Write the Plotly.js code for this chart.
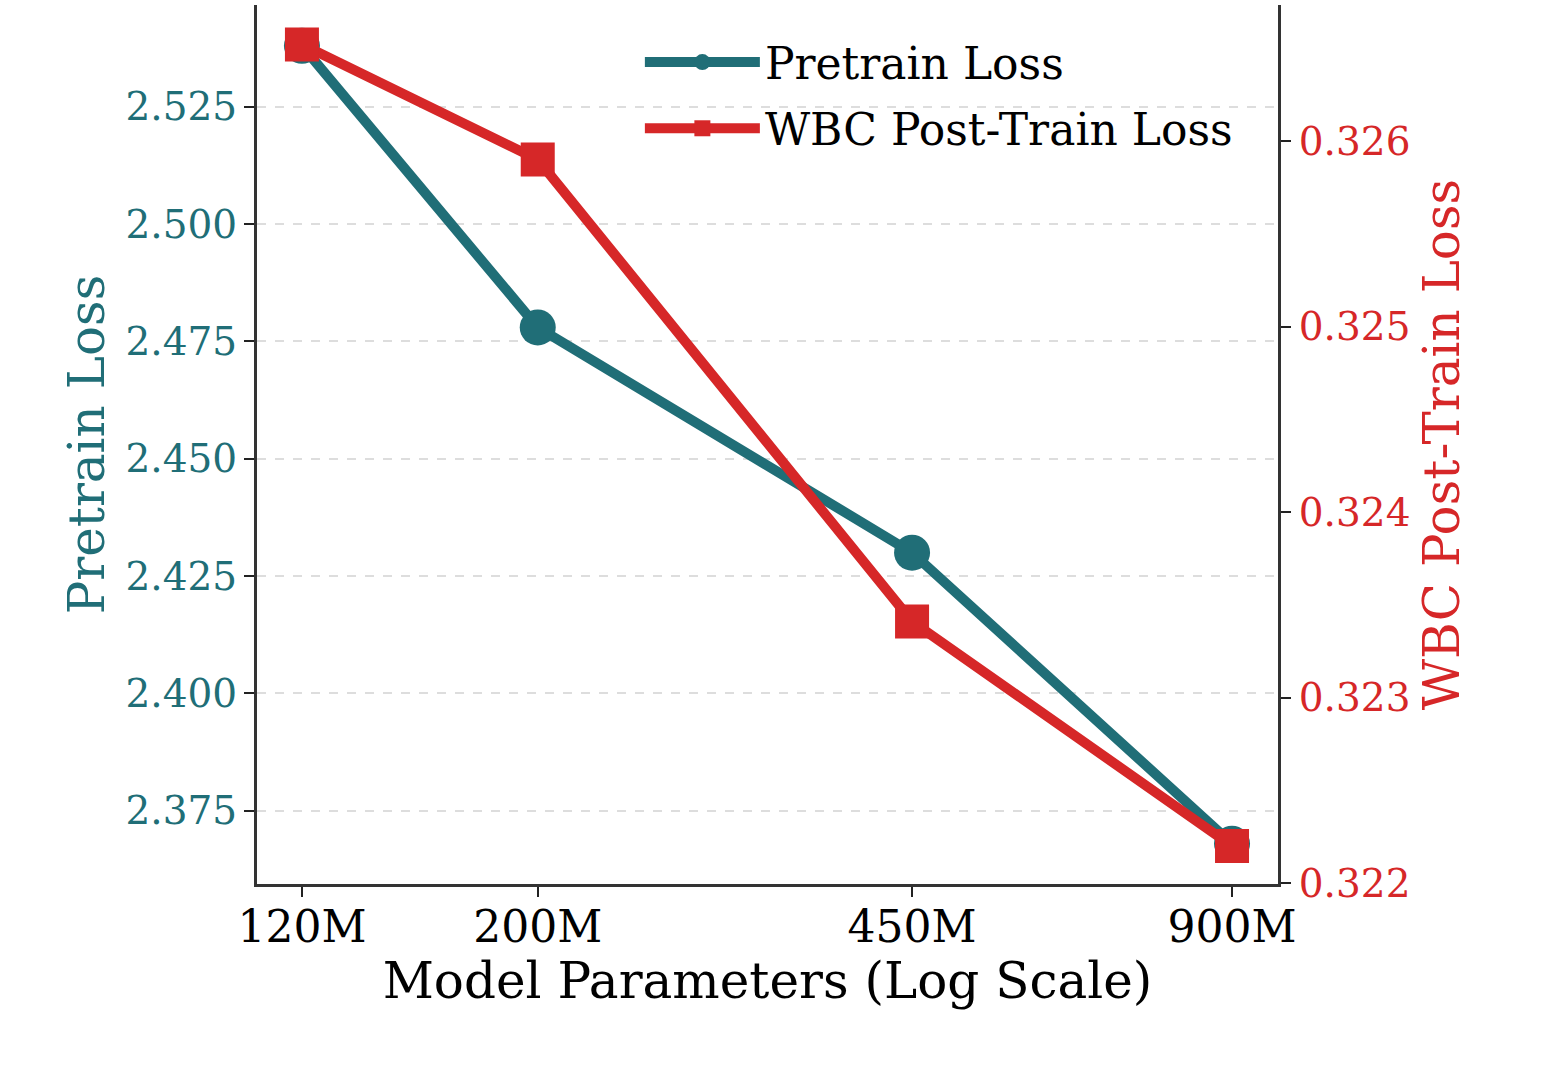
<!DOCTYPE html>
<html>
<head>
<meta charset="utf-8">
<script src="https://cdn.plot.ly/plotly-3.0.1.min.js"></script>
<style>
  html, body { margin: 0; padding: 0; background: #fff; }
  #chart { width: 1548px; height: 1080px; }
</style>
</head>
<body>
<div id="chart"></div>
<script>
// Model sizes (parameters) and their tick labels
const modelParams = [120e6, 200e6, 450e6, 900e6];
const paramLabels = ['120M', '200M', '450M', '900M'];

// Loss values per model size
const pretrainLoss = [2.538, 2.478, 2.430, 2.368];
const wbcPostTrainLoss = [0.32652, 0.32590, 0.32341, 0.32220];

// Tick values for the two loss axes
const pretrainTicks = [2.375, 2.400, 2.425, 2.450, 2.475, 2.500, 2.525];
const wbcTicks = [0.322, 0.323, 0.324, 0.325, 0.326];

const TEAL = '#206e77';
const RED = '#d62728';
const FONT = 'DejaVu Serif, serif';

const traces = [
  {
    x: modelParams,
    y: pretrainLoss,
    name: 'Pretrain Loss',
    legendgroup: 'pretrain',
    type: 'scatter',
    mode: 'lines+markers',
    line: { color: TEAL, width: 10 },
    marker: { symbol: 'circle', size: 36, color: TEAL },
    yaxis: 'y'
  },
  {
    x: modelParams,
    y: wbcPostTrainLoss,
    name: 'WBC Post-Train Loss',
    legendgroup: 'wbc',
    type: 'scatter',
    mode: 'lines+markers',
    line: { color: RED, width: 10 },
    marker: { symbol: 'square', size: 34, color: RED },
    yaxis: 'y2'
  }
];

const layout = {
  width: 1548,
  height: 1080,
  paper_bgcolor: '#ffffff',
  plot_bgcolor: '#ffffff',
  margin: { l: 257, r: 270, t: 5, b: 196 },
  font: { family: FONT, color: '#000' },
  showlegend: true,
  legend: {
    x: 0.375, y: 0.975, xanchor: 'left', yanchor: 'top',
    bgcolor: 'rgba(0,0,0,0)',
    font: { family: FONT, size: 44, color: '#000' },
    itemwidth: 115,
    tracegroupgap: 6
  },
  xaxis: {
    type: 'log',
    range: [8.0369, 8.9975],
    tickmode: 'array',
    tickvals: modelParams,
    ticktext: paramLabels,
    tickfont: { family: FONT, size: 44, color: '#000' },
    ticks: 'outside', ticklen: 10, tickwidth: 2, tickcolor: '#222',
    ticklabelstandoff: -8,
    showline: true, linecolor: '#333', linewidth: 3,
    showgrid: false, zeroline: false,
    title: { text: 'Model Parameters (Log Scale)', font: { family: FONT, size: 50, color: '#000' }, standoff: 12 }
  },
  yaxis: {
    range: [2.3594, 2.5467],
    tickmode: 'array',
    tickvals: pretrainTicks,
    tickformat: '.3f',
    tickfont: { family: FONT, size: 39, color: TEAL },
    ticks: 'outside', ticklen: 10, tickwidth: 2, tickcolor: '#222',
    ticklabelstandoff: -1,
    showline: true, linecolor: '#333', linewidth: 3,
    showgrid: true, gridcolor: '#dddddd', gridwidth: 2, griddash: 'dash',
    zeroline: false,
    title: { text: 'Pretrain Loss', font: { family: FONT, size: 50, color: TEAL }, standoff: 6 }
  },
  yaxis2: {
    overlaying: 'y',
    side: 'right',
    anchor: 'x',
    range: [0.321995, 0.326733],
    tickmode: 'array',
    tickvals: wbcTicks,
    tickformat: '.3f',
    tickfont: { family: FONT, size: 39, color: RED },
    ticks: 'outside', ticklen: 10, tickwidth: 2, tickcolor: '#222',
    ticklabelstandoff: 0,
    showline: true, linecolor: '#333', linewidth: 3,
    showgrid: false, zeroline: false,
    title: { text: 'WBC Post-Train Loss', font: { family: FONT, size: 50, color: RED }, standoff: 15 }
  }
};

Plotly.newPlot('chart', traces, layout, { displayModeBar: false, staticPlot: true });
</script>
</body>
</html>
